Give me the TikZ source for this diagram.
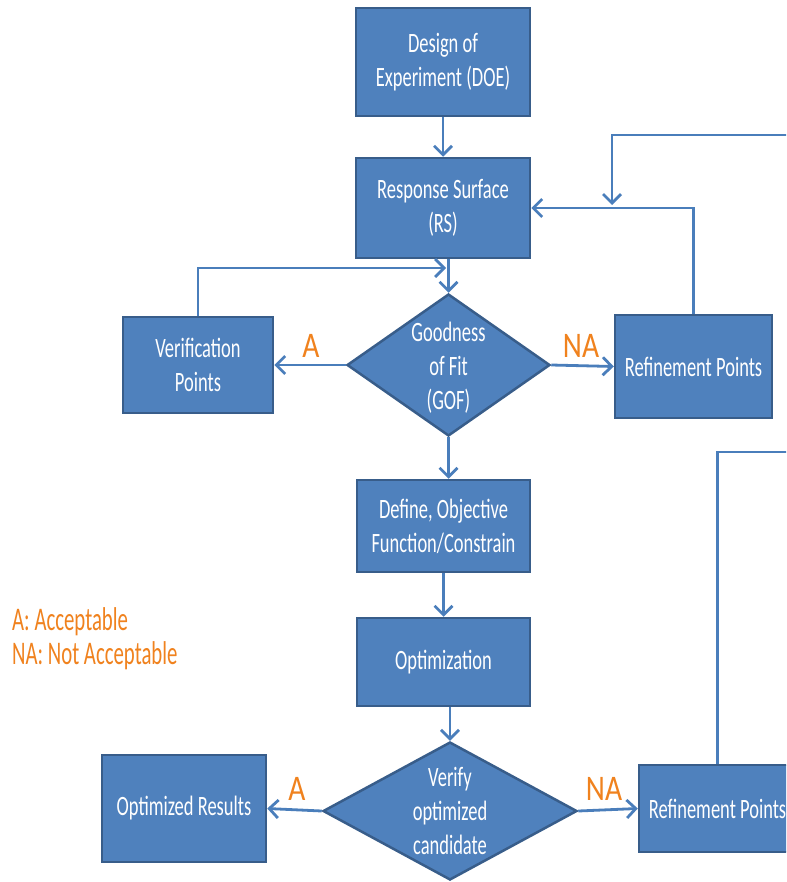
\documentclass[tikz,border=0pt]{standalone}
\usepackage{fontspec}
\setmainfont{Carlito}[FakeStretch=0.66]
\newfontfamily\labfont{Carlito}[FakeStretch=0.82]
\newfontfamily\legfont{Carlito}[FakeStretch=0.63]
\usetikzlibrary{shapes.geometric,arrows.meta}
\definecolor{boxfill}{HTML}{4F81BD}
\definecolor{boxline}{HTML}{385D8A}
\definecolor{conncol}{HTML}{4A7EBB}
\definecolor{labcol}{HTML}{F0821E}
\tikzset{
  box/.style={draw=boxline, fill=boxfill, line width=2.5pt, text=white,
    font=\fontsize{28}{34}\selectfont, align=center, inner sep=0pt},
  dia/.style={diamond, draw=boxline, fill=boxfill, line width=2.5pt, inner sep=0pt},
  diatext/.style={text=white, font=\fontsize{28}{34}\selectfont, align=center, inner sep=0pt},
  conn/.style={draw=conncol, line width=2.8pt},
  arr/.style={conn, -{Straight Barb[length=9pt,width=18pt]}},
  lab/.style={text=labcol, font=\labfont\fontsize{36}{38}\selectfont, inner sep=0pt},
  legend/.style={text=labcol, font=\legfont\fontsize{33}{34}\selectfont, align=left, inner sep=0pt}
}
\begin{document}
\begin{tikzpicture}[x=1pt,y=-1pt]
\useasboundingbox (0,0) rectangle (786,882);
\clip (0,0) rectangle (786,882);
\fill[white] (0,0) rectangle (786,882);

% boxes
\node[box, minimum width=174pt, minimum height=108pt] (doe) at (443,62) {Design of\\Experiment (DOE)};
\node[box, minimum width=174pt, minimum height=100pt] (rs) at (443,208) {Response Surface\\(RS)};
\node[box, minimum width=150pt, minimum height=96pt] (ver) at (198,365) {Verification\\Points};
\node[box, minimum width=157pt, minimum height=103pt] (ref1) at (693.5,366.5) {Refinement Points};
\node[box, minimum width=173pt, minimum height=92pt] (def) at (443.5,526) {Define, Objective\\Function/Constrain};
\node[box, minimum width=173pt, minimum height=88pt] (opt) at (443.5,662) {Optimization};
\node[box, minimum width=164pt, minimum height=107pt] (res) at (184,808.5) {Optimized Results};
\node[box, minimum width=157pt, minimum height=87pt] (ref2) at (717.5,808.5) {Refinement Points};

% diamonds
\node[dia, minimum width=203pt, minimum height=142pt] (gof) at (448.5,365) {};
\node[diatext] (goft) at (448.5,368) {Goodness\\of Fit\\(GOF)};
\node[dia, minimum width=254pt, minimum height=138pt] (vd) at (450,811) {};
\node[diatext] (vdt) at (450,811) {Verify\\optimized\\candidate};

% connector end points
\coordinate (vj) at (446,268);
\coordinate (tin) at (800,135);
\coordinate (tj) at (612,205);
\coordinate (bout) at (800,452);

% connectors
\draw[arr] (doe) -- (rs);
\draw[arr] (gof.north |- rs.south) -- (gof.north);
\draw[arr] (ver.north) |- (vj);
\draw[arr] (gof.west) -- (ver.east);
\draw[arr] (gof.east) -- (ref1.west);
\draw[arr] (ref1.north) |- (rs.east);
\draw[arr] (tin) -| (tj);
\draw[arr] (gof.south) -- (gof.south |- def.north);
\draw[arr] (def) -- (opt);
\draw[arr] (vd.north |- opt.south) -- (vd.north);
\draw[arr] (vd.west) -- (res.east);
\draw[arr] (vd.east) -- (ref2.west);
\draw[conn] (ref2.north) |- (bout);

% labels
\node[lab] (la1) at (311,346) {A};
\node[lab] (lna1) at (581,346) {NA};
\node[lab] (la2) at (297,789) {A};
\node[lab] (lna2) at (604,789) {NA};
\node[legend, anchor=west] (leg) at (12,639) {A: Acceptable\\NA: Not Acceptable};
\end{tikzpicture}
\end{document}
